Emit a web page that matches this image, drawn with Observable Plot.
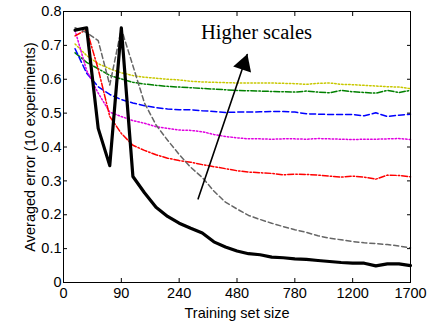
<!DOCTYPE html>
<html>
<head>
<meta charset="utf-8">
<script src="https://cdn.jsdelivr.net/npm/d3@7"></script>
<script src="https://cdn.jsdelivr.net/npm/@observablehq/plot@0.6"></script>
<style>
  html, body { margin: 0; padding: 0; background: white; }
  #chart { width: 430px; height: 324px; }
</style>
</head>
<body>
<div id="chart"></div>
<script>
// Training steps (index of training set size)
const steps = [1,2,3,4,5,6,7,8,9,10,11,12,13,14,15,16,17,18,19,20,21,22,23,24,25,26,27,28,29,30];
const xTickSteps = [0,5,10,15,20,25,30];
const xTickLabels = ["0","90","240","480","780","1200","1700"];
const yTicks = [0,0.1,0.2,0.3,0.4,0.5,0.6,0.7,0.8];

// Series (lowest scale to highest scale)
const black   = [0.745,0.752,0.455,0.345,0.752,0.313,0.265,0.222,0.195,0.175,0.16,0.146,0.12,0.105,0.093,0.085,0.082,0.075,0.073,0.07,0.068,0.065,0.062,0.059,0.057,0.057,0.049,0.055,0.055,0.05];
const gray    = [0.752,0.738,0.714,0.583,0.749,0.64,0.53,0.465,0.42,0.378,0.34,0.31,0.27,0.237,0.217,0.198,0.186,0.175,0.165,0.156,0.148,0.138,0.131,0.126,0.121,0.117,0.115,0.112,0.108,0.102];
const red     = [0.728,0.747,0.63,0.49,0.44,0.405,0.39,0.377,0.367,0.36,0.355,0.348,0.342,0.336,0.33,0.326,0.324,0.322,0.318,0.32,0.319,0.317,0.314,0.311,0.314,0.311,0.305,0.317,0.316,0.312];
const magenta = [0.744,0.626,0.559,0.503,0.49,0.478,0.47,0.46,0.455,0.45,0.449,0.445,0.437,0.431,0.427,0.424,0.424,0.423,0.424,0.424,0.423,0.425,0.424,0.423,0.422,0.423,0.423,0.424,0.425,0.422];
const blue    = [0.69,0.618,0.578,0.555,0.54,0.53,0.522,0.516,0.512,0.51,0.51,0.507,0.505,0.502,0.503,0.503,0.504,0.505,0.505,0.503,0.498,0.497,0.496,0.496,0.496,0.492,0.501,0.49,0.494,0.497];
const green   = [0.678,0.65,0.631,0.611,0.601,0.591,0.586,0.582,0.579,0.577,0.575,0.573,0.571,0.569,0.567,0.566,0.565,0.564,0.563,0.562,0.565,0.562,0.56,0.567,0.563,0.561,0.559,0.567,0.561,0.567];
const yellow  = [0.704,0.67,0.646,0.631,0.619,0.611,0.606,0.603,0.6,0.598,0.594,0.592,0.591,0.59,0.589,0.589,0.589,0.589,0.588,0.587,0.585,0.588,0.589,0.585,0.584,0.582,0.58,0.578,0.577,0.572];

// Annotation
const arrowX = [11.64, 15.88];
const arrowY = [0.247, 0.673];
const annotText = "Higher scales";
const annotX = 16.69;
const annotY = 0.738;

const seriesDefs = [
  {name: "yellow",  values: yellow,  stroke: "#c8c800", width: 1.5, dash: "1.5,2"},
  {name: "green",   values: green,   stroke: "#008000", width: 1.5, dash: "6,2,1.5,2"},
  {name: "blue",    values: blue,    stroke: "#0000ff", width: 1.5, dash: "6,3"},
  {name: "magenta", values: magenta, stroke: "#e000e0", width: 1.5, dash: "1.5,2"},
  {name: "red",     values: red,     stroke: "#ff0000", width: 1.5, dash: "6,2,1.5,2"},
  {name: "gray",    values: gray,    stroke: "#666666", width: 1.5, dash: "5,3"},
  {name: "black",   values: black,   stroke: "#000000", width: 3.2, dash: null}
];

const lineMarks = seriesDefs.map(s => Plot.line(
  steps.map((x, i) => ({x, y: s.values[i]})),
  {x: "x", y: "y", stroke: s.stroke, strokeWidth: s.width, strokeDasharray: s.dash, strokeLinejoin: "round"}
));

const arrowData = [{x1: arrowX[0], y1: arrowY[0], x2: arrowX[1], y2: arrowY[1]}];

const chart = Plot.plot({
  width: 430,
  height: 324,
  marginLeft: 63,
  marginRight: 20,
  marginTop: 11,
  marginBottom: 42,
  style: {fontFamily: "Liberation Sans, Arial, sans-serif", fontSize: "14.5px", background: "white", color: "black"},
  x: {domain: [0, 30]},
  y: {domain: [0, 0.8]},
  marks: [
    ...lineMarks,
    Plot.arrow(arrowData, {x1: "x1", y1: "y1", x2: "x2", y2: "y2", stroke: "black", strokeWidth: 1.6, headLength: 0, inset: 0}),
    Plot.dot(arrowData, {x: "x2", y: "y2", symbol: "triangle", r: 7, fill: "black", stroke: "none", rotate: 18.8, dx: -3.3, dy: 9.8}),
    Plot.text([annotText], {x: annotX, y: annotY, text: d => d, fontFamily: "Liberation Serif, Times New Roman, serif", fontSize: 20.5, textAnchor: "middle", lineAnchor: "middle", fill: "black"}),
    Plot.frame({stroke: "black", strokeWidth: 1}),
    Plot.axisX(xTickSteps, {anchor: "bottom", tickSize: -4, tickPadding: 9, tickFormat: (d, i) => xTickLabels[xTickSteps.indexOf(d)], label: "Training set size", labelAnchor: "center", labelOffset: 35, labelArrow: "none"}),
    Plot.axisX(xTickSteps, {anchor: "top", tickSize: -4, tickFormat: () => "", label: null}),
    Plot.axisY(yTicks, {anchor: "left", tickSize: -4, tickPadding: 6, tickFormat: d => d === 0 ? "0" : d3.format(".1f")(d), label: "Averaged error (10 experiments)", labelAnchor: "center", labelOffset: 39, labelArrow: "none"}),
    Plot.axisY(yTicks, {anchor: "right", tickSize: -4, tickFormat: () => "", label: null})
  ]
});
document.getElementById("chart").appendChild(chart);
</script>
</body>
</html>
